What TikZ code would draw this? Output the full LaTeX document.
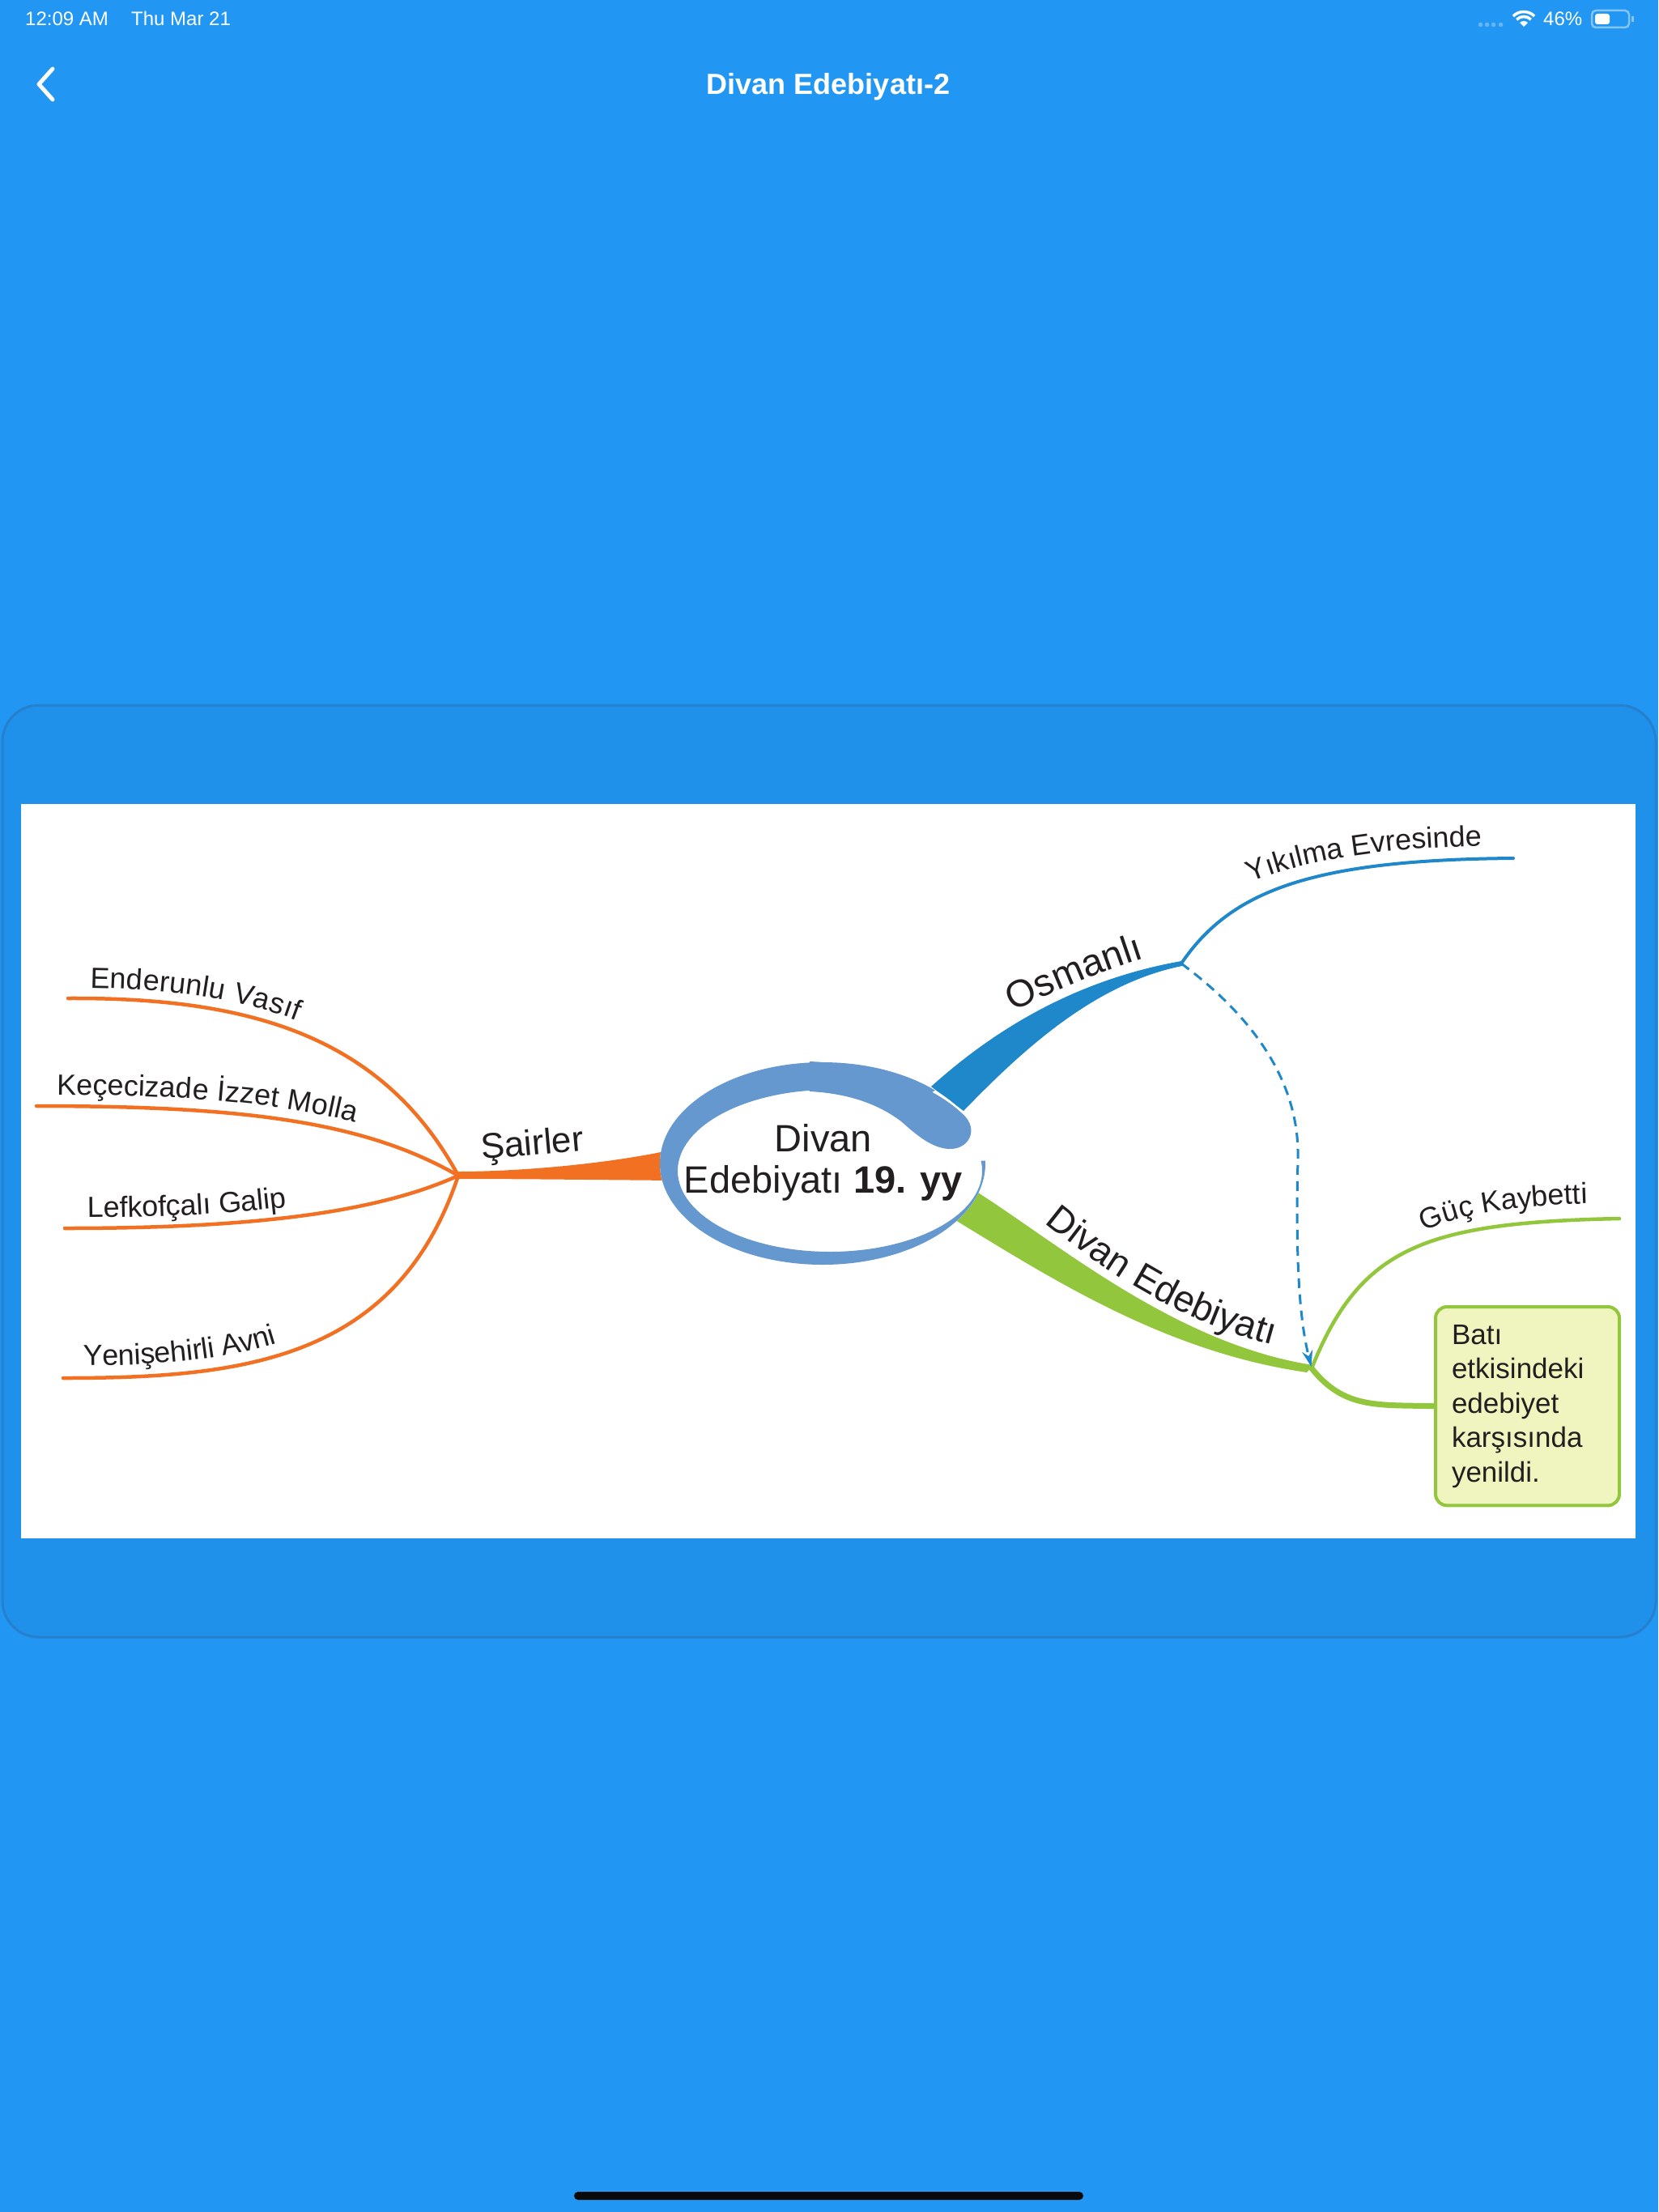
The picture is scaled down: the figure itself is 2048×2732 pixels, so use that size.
\documentclass[tikz,border=0pt]{standalone}
\usepackage{fontspec}
\setmainfont{Liberation Sans}
\usetikzlibrary{decorations.text,arrows.meta}
\definecolor{bg}{RGB}{33,150,243}
\definecolor{cardbg}{RGB}{31,145,235}
\definecolor{cardedge}{RGB}{38,128,205}
\definecolor{orng}{RGB}{242,112,33}
\definecolor{oblue}{RGB}{30,136,202}
\definecolor{ringc}{RGB}{102,152,208}
\definecolor{grn}{RGB}{146,198,60}
\definecolor{boxfill}{RGB}{240,244,190}
\definecolor{ink}{RGB}{35,31,32}
\newcommand\leaffont{\fontsize{36}{40}\selectfont\color{ink}}
\newcommand\midfont{\fontsize{47}{51}\selectfont\color{ink}}
\newcommand\edfont{\fontsize{46}{50}\selectfont\color{ink}}
\begin{document}
\begin{tikzpicture}[x=1pt,y=-1pt,
  oleaf/.style={draw=orng, line width=4.5pt, line cap=round},
  gleaf/.style={draw=grn, line width=4.5pt, line cap=round},
  bleaf/.style={draw=oblue, line width=4.5pt, line cap=round},
  statustext/.style={text=white, font=\fontsize{24}{28}\selectfont, inner sep=0pt},
  notebox/.style={draw=grn, line width=4pt, fill=boxfill, rounded corners=14pt,
     anchor=north west, align=left, text width=187pt, inner xsep=20pt, inner ysep=22pt,
     font=\fontsize{35}{42.5}\selectfont, text=ink}]
\useasboundingbox (0,0) rectangle (2048,2732);
% background
\fill[bg] (0,0) rectangle (2048,2732);
% status bar
\node[statustext, anchor=base west] (time) at (31,32) {12:09 AM};
\node[statustext, anchor=base west] (date) at (162,32) {Thu Mar 21};
\foreach \xx in {1826,1834,1842,1851}
  \fill[white, opacity=0.3, rounded corners=1pt] (\xx,28) rectangle ++(5,5);
\fill[white] (1882,33) -- ++(225:7) arc[start angle=225, end angle=315, radius=7] -- cycle;
\draw[white, line width=3.5pt] ([shift={(225:12.5)}]1882,33) arc[start angle=225, end angle=315, radius=12.5];
\draw[white, line width=3.5pt] ([shift={(225:18.5)}]1882,33) arc[start angle=225, end angle=315, radius=18.5];
\node[statustext, anchor=base west] (batt) at (1906,32) {46\%};
\draw[white, opacity=0.45, line width=2.5pt, rounded corners=5pt] (1966,13) rectangle (2012,34);
\fill[white, rounded corners=3pt] (1970,17) rectangle (1988,30);
\fill[white, opacity=0.45] (2015,20) rectangle (2018,27);
% nav bar
\draw[white, line width=5pt, line cap=round, line join=round] (65,85) -- (48,104) -- (65,123);
\node[text=white, font=\bfseries\fontsize{36}{40}\selectfont, inner sep=0pt, anchor=base] (title) at (1023,117) {Divan Edebiyatı-2};
% card
\filldraw[fill=cardbg, draw=cardedge, line width=3pt, rounded corners=45pt] (3,871) rectangle (2045,2022);
\fill[white] (26,993) rectangle (2020,1900);
% home indicator
\fill[black!96, rounded corners=5pt] (709,2707) rectangle (1338,2717);

% ---------- coordinates ----------
\coordinate (hubS) at (566,1452);
\coordinate (eEV) at (84,1233);
\coordinate (eKIM) at (45,1366);
\coordinate (eLG) at (80,1517);
\coordinate (eYA) at (78,1702);
\coordinate (hubO) at (1459,1190);
\coordinate (eYE) at (1869,1060);
\coordinate (hubD) at (1620,1690);
\coordinate (eGK) at (2000,1505);

% ---------- orange: Sairler ----------
\fill[orng] (564,1447) .. controls (650,1447) and (760,1436) .. (835,1419)
  -- (835,1458) .. controls (720,1457) and (640,1456) .. (564,1456) -- cycle;
\node[font=\fontsize{44}{48}\selectfont, text=ink, inner sep=0pt, anchor=base west, rotate=5] (sairler) at (595,1432) {Şairler};
\draw[oleaf, postaction={decorate, decoration={text along path, raise=13pt,
   text align={left indent=27pt}, text={|\leaffont|Enderunlu Vasıf}}}]
   (eEV) .. controls (300,1232) and (470,1275) .. (hubS);
\draw[oleaf, postaction={decorate, decoration={text along path, raise=14pt,
   text align={left indent=25pt}, text={|\leaffont|Keçecizade İzzet Molla}}}]
   (eKIM) .. controls (300,1366) and (450,1385) .. (hubS);
\draw[oleaf, postaction={decorate, decoration={text along path, raise=13pt,
   text align={left indent=28pt}, text={|\leaffont|Lefkofçalı Galip}}}]
   (eLG) .. controls (300,1517) and (460,1500) .. (hubS);
\draw[oleaf, postaction={decorate, decoration={text along path, raise=15pt,
   text align={left indent=25pt}, text={|\leaffont|Yenişehirli Avni}}}]
   (eYA) .. controls (300,1702) and (490,1680) .. (hubS);

% ---------- blue: Osmanli ----------
\fill[oblue] (1150,1342) .. controls (1230,1270) and (1330,1210) .. (1459,1187)
  -- (1460,1193) .. controls (1350,1215) and (1260,1300) .. (1190,1372) -- cycle;
\path[decorate, decoration={text along path, text={|\midfont|Osmanlı}}]
  (1252,1250) .. controls (1302,1224) and (1362,1198) .. (1442,1174);
\draw[bleaf, line width=4pt] (hubO) .. controls (1520,1100) and (1620,1062) .. (eYE);
\path[decorate, decoration={text along path, text={|\leaffont|Yıkılma Evresinde}}]
  (1545,1090) .. controls (1622,1058) and (1722,1046) .. (1862,1044);

% ---------- green: Divan Edebiyati ----------
\fill[grn] (1200,1468) .. controls (1300,1530) and (1450,1660) .. (1622,1686)
  -- (1614,1695) .. controls (1440,1670) and (1300,1580) .. (1180,1507) -- cycle;
\path[decorate, decoration={text along path, text={|\edfont|Divan Edebiyatı}}]
  (1290,1510) .. controls (1340,1550) and (1440,1630) .. (1590,1666);
\draw[gleaf] (hubD) .. controls (1680,1540) and (1760,1510) .. (eGK);
\path[decorate, decoration={text along path, text={|\leaffont|Güç Kaybetti}}]
  (1759,1521) .. controls (1812,1496) and (1882,1488) .. (1987,1486);
\node[notebox] (bati) at (1771,1612) {Batı\\etkisindeki\\edebiyet\\karşısında\\yenildi.};
\draw[draw=grn, line width=7pt, line cap=round] (hubD) .. controls (1660,1740) and (1700,1735) .. (bati.west);

% ---------- dashed relation ----------
\draw[oblue, line width=3pt, dash pattern=on 12pt off 8pt,
  -{Stealth[length=20pt,width=13pt]}, shorten >=2pt]
  (hubO) .. controls (1540,1250) and (1605,1330) .. (1603,1430)
  .. controls (1600,1560) and (1605,1630) .. (hubD);

% ---------- central topic ----------
\fill[white] (1016,1437) ellipse [x radius=201, y radius=125];
\begin{scope}
  \clip (1016,1437) -- (1416,1430) -- (1416,1700) -- (600,1700) -- (600,1100)
        -- (1351,1100) -- (1351,1219) -- cycle;
  \fill[ringc, even odd rule] (1016,1437) ellipse [x radius=201, y radius=125]
        (1025,1446) ellipse [x radius=188, y radius=100];
\end{scope}
\fill[ringc] (1000,1311) .. controls (1100,1315) and (1165,1350) .. (1193,1380)
  .. controls (1208,1398) and (1195,1420) .. (1172,1419)
  .. controls (1150,1418) and (1130,1400) .. (1113,1385)
  .. controls (1080,1360) and (1040,1350) .. (1000,1348) -- cycle;
\node[font=\midfont, align=center, inner sep=0pt] (center) at (1017,1436) {Divan\\Edebiyatı \textbf{19. yy}};
\end{tikzpicture}
\end{document}
